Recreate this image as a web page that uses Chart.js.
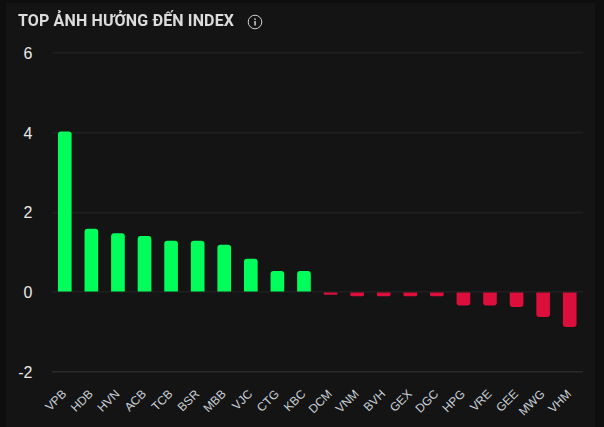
<!DOCTYPE html>
<html><head><meta charset="utf-8">
<script src="https://cdn.jsdelivr.net/npm/chart.js@4/dist/chart.umd.js"></script>
<style>
html,body{margin:0;padding:0;background:#0e0e0e;overflow:hidden}
#title{position:absolute;left:18px;top:11px;font:700 16px Roboto,sans-serif;letter-spacing:.14px;color:#dcdcdc;white-space:nowrap;line-height:20px;background:#141414}
#info{position:absolute;left:247px;top:14px}
#wrap{position:absolute;left:0;top:0;width:604px;height:427px}
canvas{display:block}
</style></head><body>
<div id="wrap"><canvas id="c" width="604" height="427"></canvas></div>
<div id="title">TOP ẢNH HƯỞNG ĐẾN INDEX</div>
<svg id="info" width="16" height="16" viewBox="0 0 16 16"><circle cx="8" cy="8" r="6.8" fill="none" stroke="#cfcfcf" stroke-width="1"/><rect x="7.3" y="7" width="1.5" height="4.5" fill="#cfcfcf"/><rect x="7.3" y="4.4" width="1.5" height="1.5" fill="#cfcfcf"/></svg>
<script>
const categories=["VPB","HDB","HVN","ACB","TCB","BSR","MBB","VJC","CTG","KBC","DCM","VNM","BVH","GEX","DGC","HPG","VRE","GEE","MWG","VHM"];
const values=[4.02,1.58,1.47,1.40,1.28,1.28,1.18,0.83,0.52,0.52,-0.06,-0.10,-0.10,-0.10,-0.10,-0.33,-0.33,-0.37,-0.62,-0.87];
const yTicks=[6,4,2,0,-2];
const green="#00ff5a",red="#dc0e3c";
const cv=document.getElementById('c');
cv.getContext('2d',{alpha:false});
new Chart(cv,{
 type:'bar',
 data:{labels:categories,datasets:[{data:values,
  backgroundColor:values.map(v=>v>=0?green:red),
  borderRadius:3,
  borderSkipped:'start',barThickness:13}]},
 options:{responsive:false,animation:false,
  layout:{padding:{left:0,right:21,top:53,bottom:0}},
  plugins:{legend:{display:false},tooltip:{enabled:false},title:{display:false}},
  scales:{
   y:{position:'left',min:-2,max:6,afterBuildTicks:a=>{a.ticks=yTicks.map(v=>({value:v}))},
      afterFit:a=>{a.width=51.5},
      grid:{color:c=>c.tick&&c.tick.value===-2?'#2b2b2b':'#1f1f1f',lineWidth:1.5,drawTicks:false},
      border:{display:false},
      ticks:{color:'#e8e8e8',font:{family:'Liberation Sans',size:16},padding:19,callback:v=>String(v)}},
   x:{grid:{display:false},border:{display:false},
      afterFit:a=>{a.height=55.3},
      ticks:{color:'#c8d0d8',font:{family:'Liberation Sans',size:12},minRotation:45,maxRotation:45,autoSkip:false,padding:7.5}}
  }
 },
 plugins:[{id:'bg',
  beforeDraw(c){const x=c.ctx;x.save();x.fillStyle='#0e0e0e';x.fillRect(0,0,604,427);x.fillStyle='#141414';x.fillRect(6,3,589,424);x.restore();},
  afterLayout(c){c.scales.y.getLabelItems().forEach(i=>{i.options.translation[1]+=1.5;});}
 }]
});
</script></body></html>
